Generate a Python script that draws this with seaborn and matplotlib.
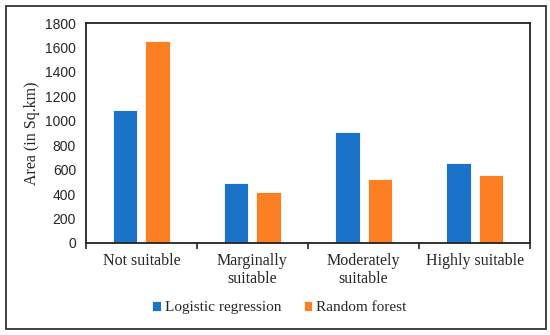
import matplotlib
matplotlib.use("Agg")
import matplotlib.pyplot as plt
import seaborn as sns
import pandas as pd
from matplotlib.patches import Rectangle
from matplotlib.ticker import FixedLocator

categories = ["Not suitable", "Marginally\nsuitable", "Moderately\nsuitable", "Highly suitable"]
logistic = [1088, 492, 905, 656]
random_forest = [1655, 416, 520, 553]
series = ["Logistic regression", "Random forest"]
colors = ["#1a73c9", "#fd7f24"]

df = pd.DataFrame({
    "cat": categories * 2,
    "area": logistic + random_forest,
    "model": [series[0]] * 4 + [series[1]] * 4,
})

sns.set_style("white")
plt.rcParams["font.family"] = ["Liberation Serif", "DejaVu Serif"]

fig = plt.figure(figsize=(5.5, 3.35), dpi=100)
ax = fig.add_axes([0.156, 0.275, 0.808, 0.656])

sns.barplot(data=df, x="cat", y="area", hue="model", palette=colors,
            width=0.58, gap=0.25, edgecolor="white", linewidth=0.6,
            saturation=1, ax=ax)

ax.set_ylim(0, 1800)
ax.set_xlim(-0.5, 3.5)
ax.set_yticks(range(0, 1801, 200))
ax.set_yticklabels([str(v) for v in range(0, 1801, 200)],
                   fontfamily="Liberation Sans", fontsize=10)
ax.set_xlabel("")
ax.set_ylabel("Area (in Sq.km)", fontsize=11.5, labelpad=4)
ax.tick_params(axis="x", which="major", length=0, pad=7, labelsize=11.5)
ax.tick_params(axis="y", which="major", length=4, width=1.2, direction="out",
               color="#222222", pad=3)
ax.xaxis.set_minor_locator(FixedLocator([-0.5, 0.5, 1.5, 2.5, 3.5]))
ax.tick_params(axis="x", which="minor", length=4, width=1.2, direction="out",
               color="#222222", bottom=True)
for s in ax.spines.values():
    s.set_visible(True)
    s.set_color("#222222")
    s.set_linewidth(1.3)

handles, labels = ax.get_legend_handles_labels()
ax.legend_.remove()
fig.legend(handles, labels, loc="center", bbox_to_anchor=(0.508, 0.081),
           ncol=2, frameon=False,
           prop={"family": "Liberation Serif", "size": 11},
           handlelength=0.55, handleheight=0.55, handletextpad=0.25,
           columnspacing=1.5)

fig.patches.append(Rectangle((0.011, 0.018), 0.982, 0.964,
                             transform=fig.transFigure, fill=False,
                             edgecolor="#333333", linewidth=1.3))

fig.savefig("out.png", dpi=100)
